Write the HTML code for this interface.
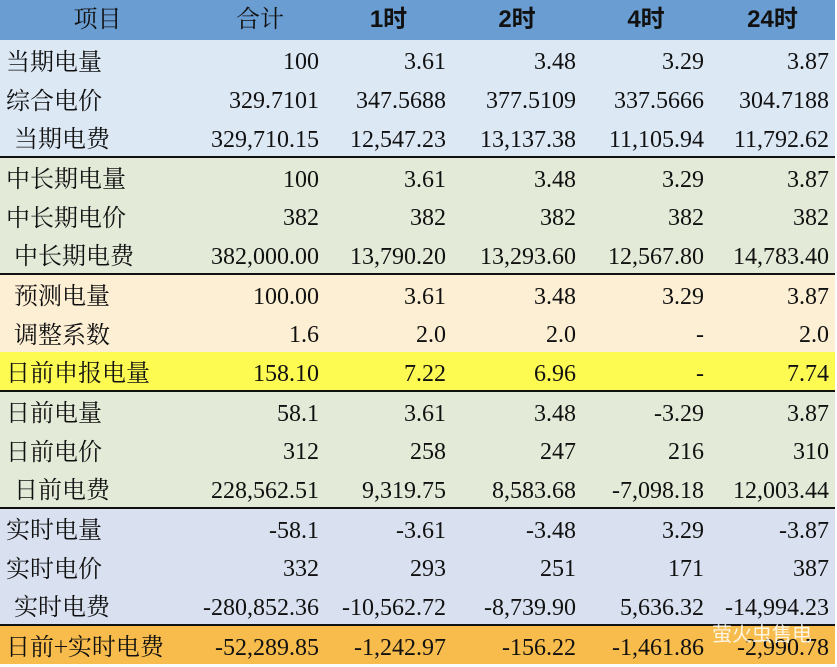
<!DOCTYPE html><html><head><meta charset="utf-8"><style>
body{margin:0;width:837px;height:667px;overflow:hidden;background:#fff;font-family:"Liberation Serif","Noto Serif CJK SC",serif;}
table{border-collapse:collapse;position:absolute;left:0;top:0;width:835px;table-layout:fixed}
td{height:39px;padding:5px 6px 0 0;font-size:24px;line-height:30px;color:#111;text-align:right;white-space:nowrap;box-sizing:border-box;vertical-align:middle}
td:first-child{text-align:left;padding:0 0 0 6px;font-family:"Noto Serif CJK SC",serif;font-size:24px}
tr.h td{height:40px;background:#6a9dd2;text-align:center;font-weight:bold;font-family:"Liberation Sans","Noto Sans CJK SC",sans-serif;font-size:24px;padding:0}
tr.h td:nth-child(1),tr.h td:nth-child(2){font-weight:normal;font-family:"Liberation Serif","Noto Serif CJK SC",serif}
.b td{background:#dde8f5}.g td{background:#e3ebd8}.p td{background:#fdefd4}.y td{background:#fdfb52}.s td{background:#d9e0ef}.o td{background:#f8bc4c}
.top td{border-top:2px solid #111}
.i{padding-left:14px!important}
</style></head><body><table>
<colgroup><col style="width:195px"><col style="width:130px"><col style="width:127px"><col style="width:130px"><col style="width:128px"><col style="width:125px"></colgroup>
<tr class="h"><td>项目</td><td>合计</td><td>1时</td><td>2时</td><td>4时</td><td>24时</td></tr>
<tr class="b"><td>当期电量</td><td>100</td><td>3.61</td><td>3.48</td><td>3.29</td><td>3.87</td></tr>
<tr class="b"><td>综合电价</td><td>329.7101</td><td>347.5688</td><td>377.5109</td><td>337.5666</td><td>304.7188</td></tr>
<tr class="b"><td class="i">当期电费</td><td>329,710.15</td><td>12,547.23</td><td>13,137.38</td><td>11,105.94</td><td>11,792.62</td></tr>
<tr class="g top"><td>中长期电量</td><td>100</td><td>3.61</td><td>3.48</td><td>3.29</td><td>3.87</td></tr>
<tr class="g"><td>中长期电价</td><td>382</td><td>382</td><td>382</td><td>382</td><td>382</td></tr>
<tr class="g"><td class="i">中长期电费</td><td>382,000.00</td><td>13,790.20</td><td>13,293.60</td><td>12,567.80</td><td>14,783.40</td></tr>
<tr class="p top"><td class="i">预测电量</td><td>100.00</td><td>3.61</td><td>3.48</td><td>3.29</td><td>3.87</td></tr>
<tr class="p"><td class="i">调整系数</td><td>1.6</td><td>2.0</td><td>2.0</td><td>-</td><td>2.0</td></tr>
<tr class="y"><td>日前申报电量</td><td>158.10</td><td>7.22</td><td>6.96</td><td>-</td><td>7.74</td></tr>
<tr class="g top"><td>日前电量</td><td>58.1</td><td>3.61</td><td>3.48</td><td>-3.29</td><td>3.87</td></tr>
<tr class="g"><td>日前电价</td><td>312</td><td>258</td><td>247</td><td>216</td><td>310</td></tr>
<tr class="g"><td class="i">日前电费</td><td>228,562.51</td><td>9,319.75</td><td>8,583.68</td><td>-7,098.18</td><td>12,003.44</td></tr>
<tr class="s top"><td>实时电量</td><td>-58.1</td><td>-3.61</td><td>-3.48</td><td>3.29</td><td>-3.87</td></tr>
<tr class="s"><td>实时电价</td><td>332</td><td>293</td><td>251</td><td>171</td><td>387</td></tr>
<tr class="s"><td class="i">实时电费</td><td>-280,852.36</td><td>-10,562.72</td><td>-8,739.90</td><td>5,636.32</td><td>-14,994.23</td></tr>
<tr class="o top"><td>日前+实时电费</td><td>-52,289.85</td><td>-1,242.97</td><td>-156.22</td><td>-1,461.86</td><td>-2,990.78</td></tr>
</table>
<div style="position:absolute;left:712px;top:618px;font-family:'Noto Sans CJK SC',sans-serif;font-size:20px;color:#fff;opacity:.85">萤火虫售电</div>
</body></html>
